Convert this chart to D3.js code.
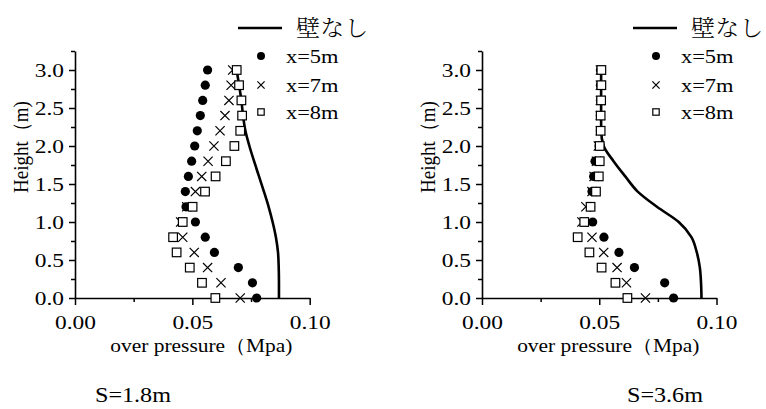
<!DOCTYPE html>
<html>
<head>
<meta charset="utf-8">
<script src="https://cdn.jsdelivr.net/npm/d3@7"></script>
<style>
  html, body { margin: 0; padding: 0; background: #fff; }
</style>
</head>
<body>
<svg id="chart" width="766" height="409"></svg>
<script>
// Heights (m) at which overpressure was sampled, top to bottom
const heights = [3.0, 2.8, 2.6, 2.4, 2.2, 2.0, 1.8, 1.6, 1.4, 1.2, 1.0, 0.8, 0.6, 0.4, 0.2, 0.0];

// S = 1.8 m
const s18NoWall = [0.0689, 0.0699, 0.0709, 0.0716, 0.0726, 0.0743, 0.0763, 0.0784, 0.0805, 0.0825, 0.0842, 0.0856, 0.0865, 0.0868, 0.0869, 0.0869];
const s18X5 = [0.0565, 0.0555, 0.0544, 0.0534, 0.0521, 0.0510, 0.0497, 0.0483, 0.0470, 0.0473, 0.0513, 0.0555, 0.0594, 0.0696, 0.0756, 0.0774];
const s18X7 = [0.0672, 0.0665, 0.0656, 0.0639, 0.0618, 0.0592, 0.0567, 0.0540, 0.0513, 0.0476, 0.0450, 0.0459, 0.0508, 0.0565, 0.0622, 0.0704];
const s18X8 = [0.0689, 0.0699, 0.0709, 0.0712, 0.0704, 0.0679, 0.0643, 0.0599, 0.0554, 0.0501, 0.0459, 0.0418, 0.0433, 0.0489, 0.0541, 0.0598];

// S = 3.6 m
const s36NoWall = [0.0508, 0.0508, 0.0508, 0.0508, 0.0508, 0.0519, 0.0561, 0.0611, 0.0664, 0.0746, 0.0839, 0.0893, 0.0916, 0.0929, 0.0934, 0.0936];
const s36X5 = [0.0505, 0.0505, 0.0505, 0.0505, 0.0505, 0.0499, 0.0482, 0.0476, 0.0469, 0.0463, 0.0472, 0.0520, 0.0584, 0.0650, 0.0779, 0.0817];
const s36X7 = [0.0505, 0.0505, 0.0505, 0.0505, 0.0505, 0.0496, 0.0488, 0.0478, 0.0469, 0.0443, 0.0426, 0.0469, 0.0519, 0.0576, 0.0616, 0.0697];
const s36X8 = [0.0509, 0.0509, 0.0508, 0.0506, 0.0506, 0.0502, 0.0502, 0.0498, 0.0486, 0.0463, 0.0436, 0.0408, 0.0458, 0.0510, 0.0569, 0.0620];

const xTicks = [0, 0.05, 0.10];
const xMinorTicks = [0.025, 0.075];
const yTicks = [0, 0.5, 1.0, 1.5, 2.0, 2.5, 3.0];
const yMinorTicks = [0.25, 0.75, 1.25, 1.75, 2.25, 2.75, 3.25];
const legendLabels = ["壁なし", "x=5m", "x=7m", "x=8m"];
const xTitle = "over pressure（Mpa)";
const yTitle = "Height（m)";

const SERIF = "'Liberation Serif', 'Times New Roman', Tinos, 'DejaVu Serif', serif";
const JP = "'Noto Serif CJK JP', 'Noto Sans CJK JP', sans-serif";
const SX = 1.2; // the lettering is set slightly wide

const panels = [
  { caption: "S=1.8m", noWall: s18NoWall, x5: s18X5, x7: s18X7, x8: s18X8,
    left: 75, right: 309.7, captionX: 95, legendX: 238 },
  { caption: "S=3.6m", noWall: s36NoWall, x5: s36X5, x7: s36X7, x8: s36X8,
    left: 482, right: 716.5, captionX: 627, legendX: 633 }
];

const svg = d3.select("#chart").attr("font-family", SERIF);
const y = d3.scaleLinear().domain([0, 3.25]).range([298, 298 - 3.25 * 76]);

function drawCircle(g, cx, cy, r) {
  g.append("circle").attr("cx", cx).attr("cy", cy).attr("r", r).attr("fill", "#000");
}
function drawCross(g, cx, cy, h) {
  g.append("path")
    .attr("d", `M${cx - h},${cy - h}L${cx + h},${cy + h}M${cx - h},${cy + h}L${cx + h},${cy - h}`)
    .attr("stroke", "#000").attr("stroke-width", 1.2).attr("fill", "none");
}
function drawSquare(g, cx, cy, h) {
  g.append("rect").attr("x", cx - h).attr("y", cy - h).attr("width", 2 * h).attr("height", 2 * h)
    .attr("fill", "#fff").attr("stroke", "#000").attr("stroke-width", 1.2);
}
function serifText(sel, size) {
  return sel.attr("font-family", SERIF).style("font-family", SERIF).attr("font-size", size)
    .attr("fill", "#000");
}
// place a widened text label at (x, y)
function wideText(g, x, yy, size, str, sx = SX) {
  return serifText(g.append("text"), size)
    .attr("transform", `translate(${x},${yy}) scale(${sx},1)`).text(str);
}

panels.forEach(p => {
  const x = d3.scaleLinear().domain([0, 0.10]).range([p.left, p.right]);
  const g = svg.append("g");

  // x axis
  const xAxis = g.append("g").attr("transform", `translate(0,${y(0)})`)
    .call(d3.axisBottom(x).tickValues(xTicks).tickFormat(d3.format(".2f")).tickSize(7).tickSizeOuter(0));
  xAxis.attr("font-family", SERIF);
  xAxis.select(".domain").attr("stroke-width", 1.6);
  xAxis.selectAll(".tick line").attr("stroke-width", 1.5);
  serifText(xAxis.selectAll(".tick text"), 19.5).attr("y", 0).attr("dy", 31)
    .attr("transform", `scale(${SX},1)`);
  g.append("g").attr("transform", `translate(0,${y(0)})`)
    .call(d3.axisBottom(x).tickValues(xMinorTicks).tickFormat("").tickSize(4).tickSizeOuter(0))
    .call(a => a.select(".domain").remove())
    .selectAll(".tick line").attr("stroke-width", 1.5);

  // y axis
  const ySX = 1.2;
  const yAxis = g.append("g").attr("transform", `translate(${p.left},0)`)
    .call(d3.axisLeft(y).tickValues(yTicks).tickFormat(d3.format(".1f")).tickSize(6).tickSizeOuter(0));
  yAxis.attr("font-family", SERIF);
  yAxis.select(".domain").attr("stroke-width", 1.6);
  yAxis.selectAll(".tick line").attr("stroke-width", 1.5);
  serifText(yAxis.selectAll(".tick text"), 19.5).attr("x", -11 / ySX).attr("dy", "0.34em")
    .attr("transform", `scale(${ySX},1)`);
  g.append("g").attr("transform", `translate(${p.left},0)`)
    .call(d3.axisLeft(y).tickValues(yMinorTicks).tickFormat("").tickSize(4).tickSizeOuter(0))
    .call(a => a.select(".domain").remove())
    .selectAll(".tick line").attr("stroke-width", 1.5);

  // axis titles
  wideText(g, (p.left + p.right) / 2 + 9, 352, 19.5, xTitle, 1.1).attr("text-anchor", "middle");
  serifText(g.append("text"), 19)
    .attr("transform", `translate(${p.left - 47},147) rotate(-90) scale(1,1.1)`)
    .attr("text-anchor", "middle").text(yTitle);

  // wall-less reference profile
  const line = d3.line().x(d => x(d[0])).y(d => y(d[1])).curve(d3.curveMonotoneY);
  g.append("path")
    .datum(p.noWall.map((v, i) => [v, heights[i]]).reverse())
    .attr("d", line).attr("fill", "none").attr("stroke", "#000").attr("stroke-width", 2.6);

  // measured series
  p.x5.forEach((v, i) => drawCircle(g, x(v), y(heights[i]), 4.6));
  p.x7.forEach((v, i) => drawCross(g, x(v), y(heights[i]), 4.6));
  p.x8.forEach((v, i) => drawSquare(g, x(v), y(heights[i]), 4.3));

  // legend
  const lx = p.legendX;
  g.append("line").attr("x1", lx).attr("x2", lx + 44).attr("y1", 28).attr("y2", 28)
    .attr("stroke", "#000").attr("stroke-width", 2.6);
  g.append("text").attr("transform", `translate(${lx + 58},36) scale(1.05,1)`)
    .attr("font-family", JP).style("font-family", JP).attr("font-weight", 300)
    .attr("font-size", 23).attr("fill", "#000").text(legendLabels[0]);
  const mx = lx + 23;
  drawCircle(g, mx, 56, 4);
  drawCross(g, mx, 85, 3.6);
  drawSquare(g, mx, 112, 3.2);
  [56, 85, 112].forEach((ly, i) => {
    wideText(g, lx + 48, ly + 7, 19.5, legendLabels[i + 1], 1.15);
  });

  // panel caption
  wideText(g, p.captionX, 402, 21, p.caption, 1.15);
});
</script>
</body>
</html>
